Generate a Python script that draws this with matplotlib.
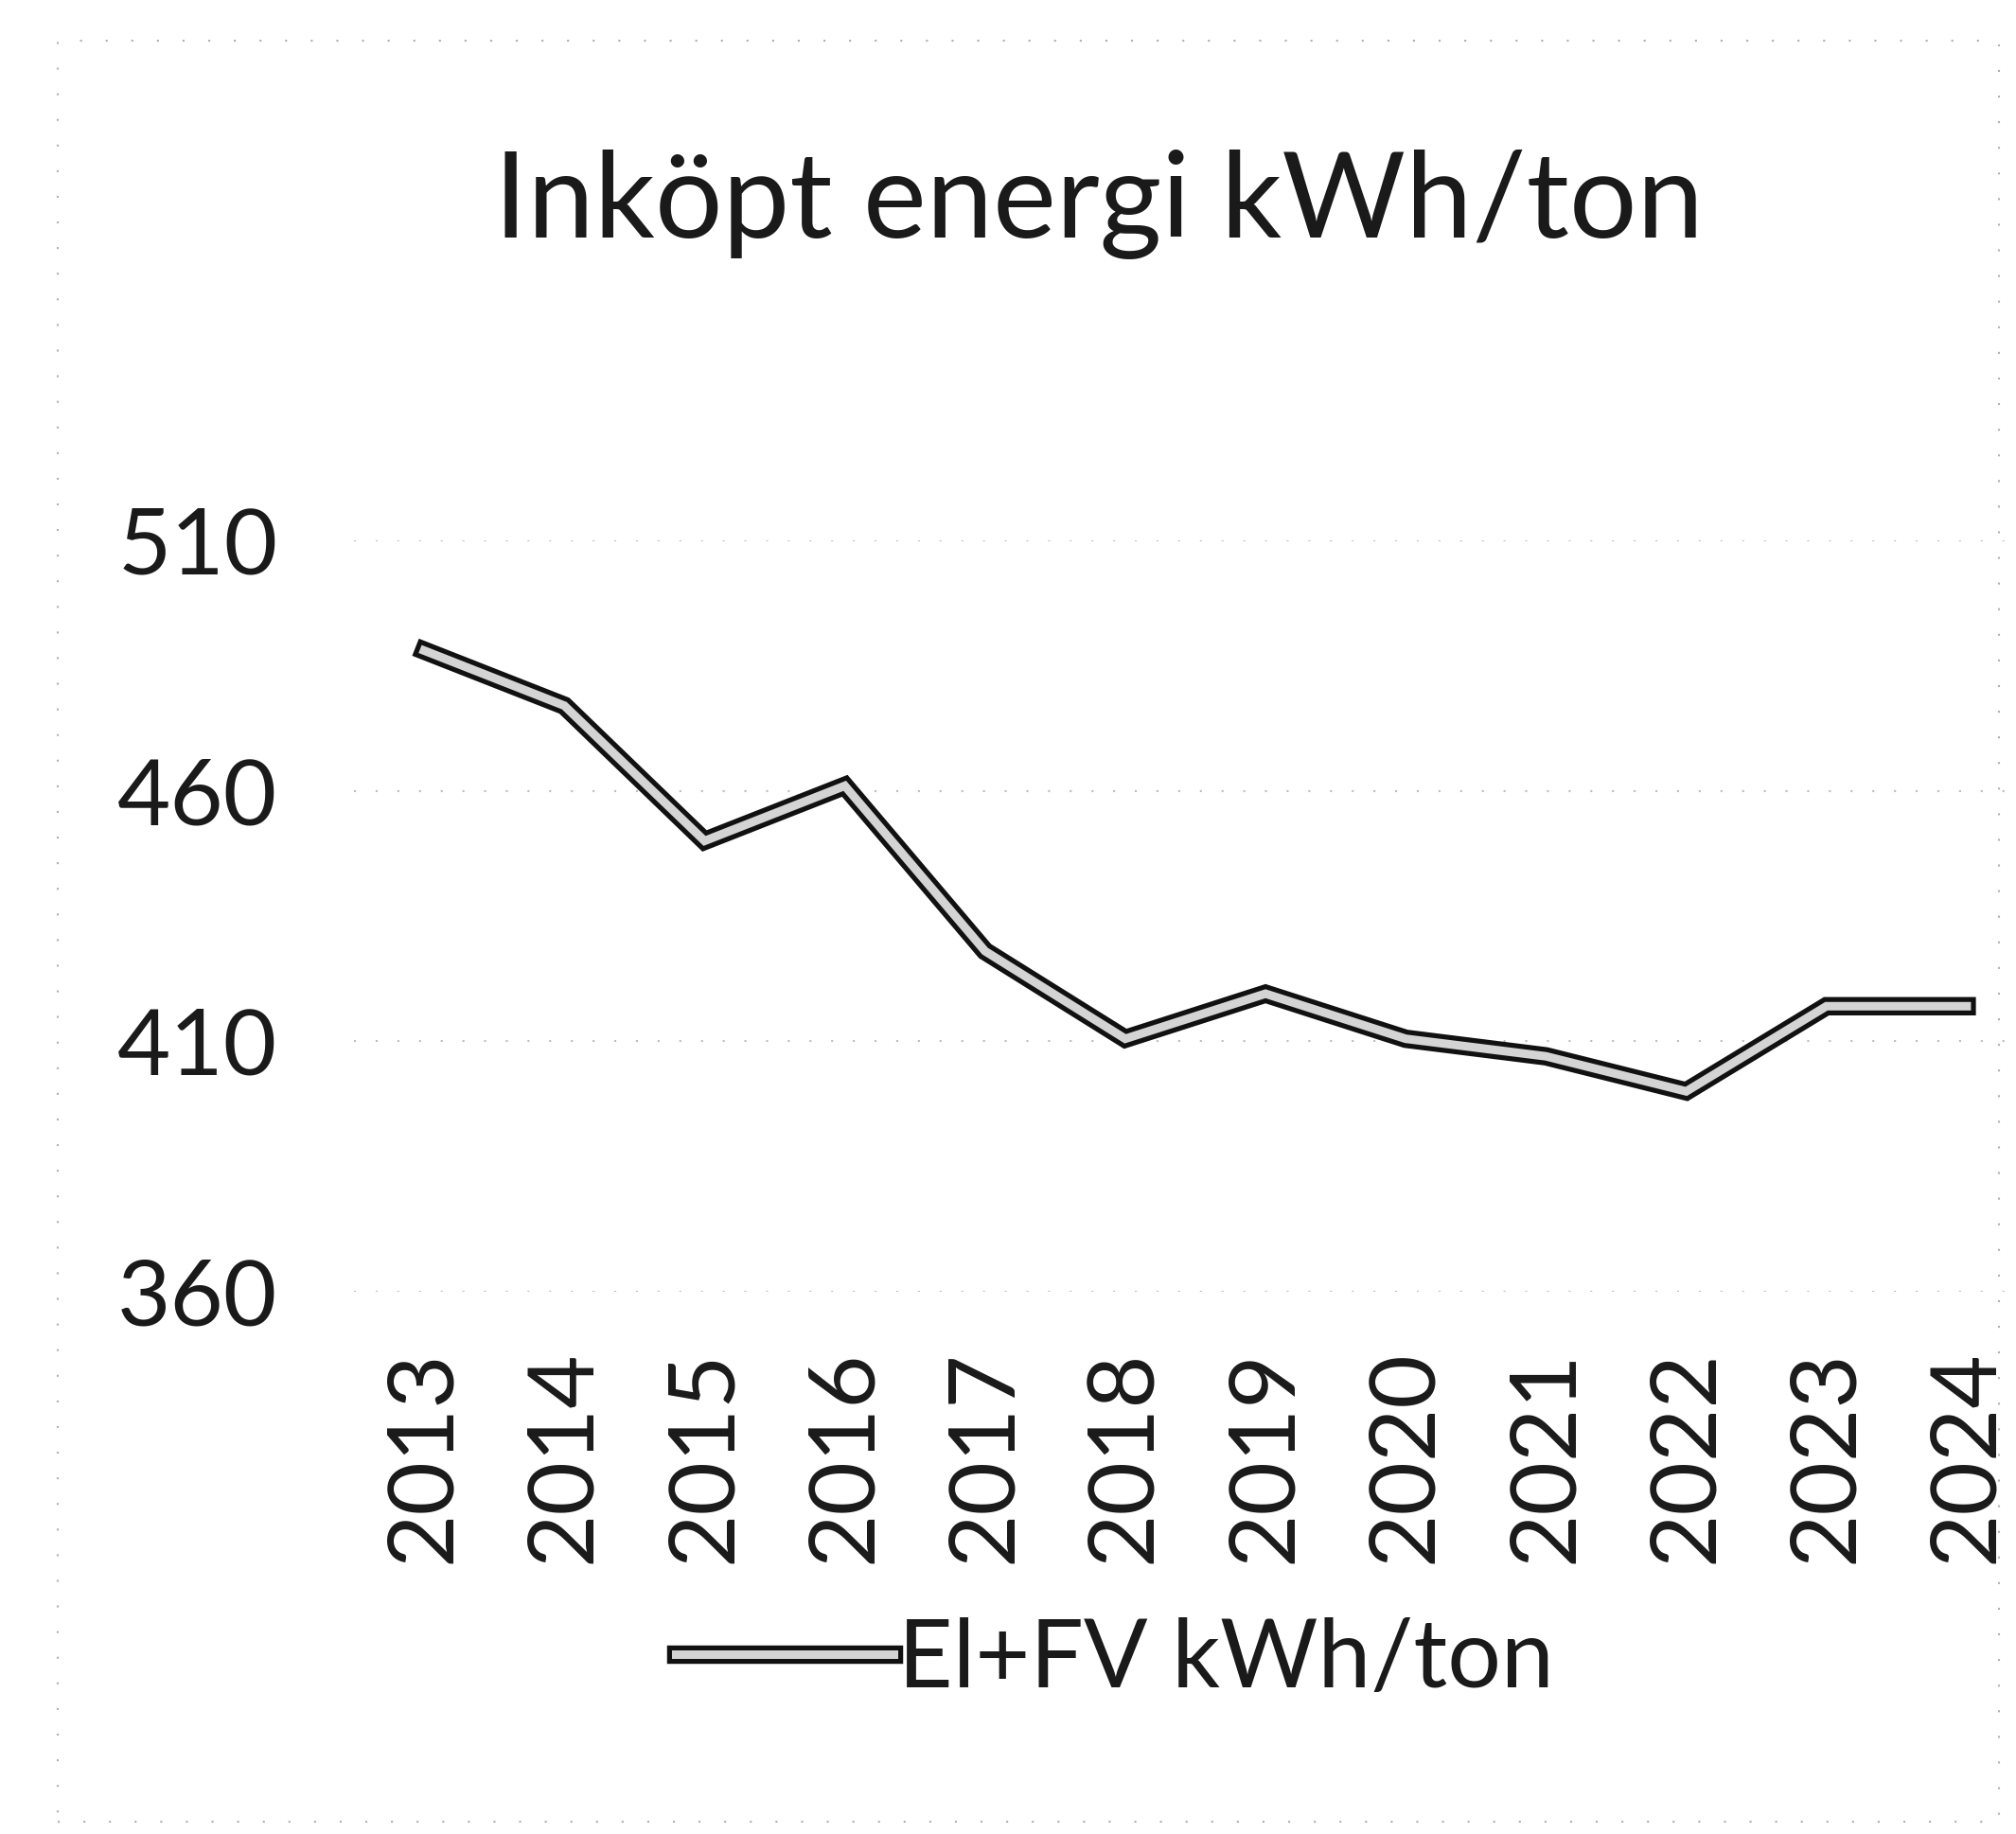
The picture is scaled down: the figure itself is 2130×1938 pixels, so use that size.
import matplotlib
matplotlib.use("Agg")
import matplotlib.pyplot as plt
import matplotlib.patheffects as pe
from matplotlib.patches import Rectangle

# Chart data
years = ["2013", "2014", "2015", "2016", "2017", "2018",
         "2019", "2020", "2021", "2022", "2023", "2024"]
energy = [488, 477, 450, 461, 428, 410.5, 419.5, 410.5, 407, 400, 417, 417]
y_ticks = [360, 410, 460, 510]
series_name = "El+FV kWh/ton"
title = "Inköpt energi kWh/ton"

plt.rcParams['font.family'] = ['Lato', 'DejaVu Sans']

fig = plt.figure(figsize=(21.3, 19.38), dpi=100)
W, H = 2130, 1938

# plot area in pixel coords
left, right = 374, 2152
top, bottom = 571, 1365
ax = fig.add_axes([left / W, 1 - bottom / H, (right - left) / W, (bottom - top) / H])

x = range(len(years))
ax.plot(x, energy, color='#d4d4d4', linewidth=6.5, solid_joinstyle='miter',
        label=series_name,
        path_effects=[pe.Stroke(linewidth=14, foreground='#111111'), pe.Normal()])

ax.set_xlim(-0.5, len(years) - 0.5)
ax.set_ylim(360, 510)
ax.set_yticks(y_ticks)
ax.set_yticklabels([str(t) for t in y_ticks])
ax.set_xticks(list(x))
ax.set_xticklabels(years, rotation=90)

ax.grid(axis='y', color='#bdbdbd', linewidth=1.5, linestyle=(0, (1, 10)))
ax.set_axisbelow(True)
for s in ax.spines.values():
    s.set_visible(False)
ax.tick_params(axis='y', length=0, pad=58, labelsize=70, labelcolor='#1a1a1a')
ax.tick_params(axis='x', length=0, pad=44, labelsize=70, labelcolor='#1a1a1a')

# title and legend
fig.text(0.545, 1 - 251 / H, title, ha='center', va='baseline',
         fontsize=91, color='#1a1a1a')
leg = fig.legend(loc='center', bbox_to_anchor=(0.553, 1 - 1754 / H), frameon=False,
                 fontsize=72, handlelength=2.3, handletextpad=0.05)
for t in leg.get_texts():
    t.set_color('#1a1a1a')

# faint dotted chart border
fig.patches.append(Rectangle((61 / W, 1 - 1925 / H), (2112 - 61) / W, (1925 - 43) / H,
                             transform=fig.transFigure, fill=False,
                             edgecolor='#b0b0b0', linewidth=1.5, linestyle=(0, (1, 12))))

fig.savefig("out.png", dpi=100)
